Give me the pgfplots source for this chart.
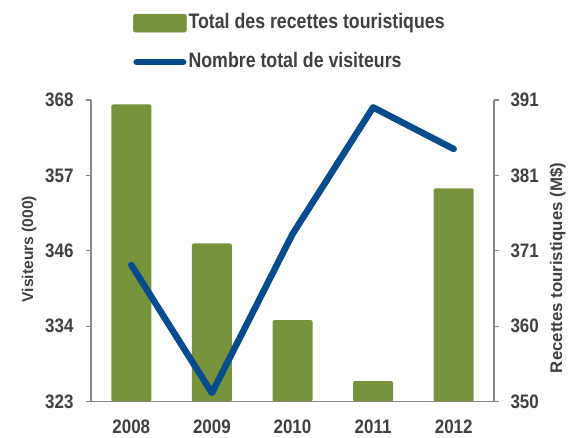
\documentclass[border=0pt]{standalone}
\usepackage{pgfplots}
\pgfplotsset{compat=1.18}
\usepackage{fontspec}
\setmainfont{Liberation Sans}
\newfontfamily\tickfont{Liberation Sans}[FakeStretch=0.87]
\newfontfamily\legfont{Liberation Sans}[FakeStretch=0.845]
\definecolor{barGreen}{RGB}{119,147,60}
\definecolor{lineBlue}{RGB}{6,76,140}
\definecolor{txtGray}{RGB}{64,64,64}
\definecolor{axGray}{RGB}{136,136,136}
\begin{document}
\begin{tikzpicture}
\path[use as bounding box] (-91pt,-35.3pt) rectangle (482pt,401.7pt);
% bars on the right axis
\begin{axis}[
  scale only axis, width=403pt, height=301.7pt,
  xmin=-0.5, xmax=4.5, ymin=350, ymax=391,
  axis x line=none, axis y line*=right,
  axis line style={draw=axGray, line width=1.5pt},
  ytick={350,360.25,370.5,380.75,391},
  yticklabels={350,360,371,381,391},
  tick align=outside, major tick length=5pt,
  tick style={draw=axGray, line width=1.2pt},
  yticklabel style={font=\fontsize{19.5}{20}\selectfont\tickfont\bfseries, text=txtGray, xshift=8pt},
  /pgf/number format/assume math mode=true,
  ylabel={Recettes touristiques (M\$)},
  ylabel style={font=\fontsize{16.8}{18}\selectfont\bfseries, text=txtGray, at={(axis description cs:1.1576,0.443)}, anchor=center},
  ybar, bar width=40pt, xtick=\empty,
  clip=true,
]
\addplot[fill=barGreen, draw=none, rounded corners=2pt] coordinates {(0,390.4) (1,371.5) (2,361.1) (3,352.8) (4,379.0)};
\end{axis}
% line on the left axis
\begin{axis}[
  scale only axis, width=403pt, height=301.7pt,
  xmin=-0.5, xmax=4.5, ymin=323, ymax=368,
  axis x line*=bottom, axis y line*=left,
  axis line style={draw=axGray, line width=1.5pt, -},
  ytick={323,334.25,345.5,356.75,368},
  yticklabels={323,334,346,357,368},
  xtick={0,1,2,3,4},
  xticklabels={2008,2009,2010,2011,2012},
  extra x ticks={-0.5,0.5,1.5,2.5,3.5,4.5},
  extra x tick labels={},
  x tick style={draw=none},
  extra x tick style={major tick length=5pt, tick style={draw=axGray, line width=1.2pt}},
  tick align=outside, major tick length=5pt,
  y tick style={draw=axGray, line width=1.2pt},
  ticklabel style={font=\fontsize{19.5}{20}\selectfont\tickfont\bfseries, text=txtGray},
  yticklabel style={xshift=-9pt},
  xticklabel style={yshift=-10pt},
  /pgf/number format/assume math mode=true,
  ylabel={Visiteurs (000)},
  ylabel style={font=\fontsize{15.6}{17}\selectfont\bfseries, text=txtGray, at={(axis description cs:-0.1538,0.506)}, anchor=center},
  clip=false,
  legend style={draw=none, fill=none, at={(axis description cs:0.1042,1.2884)}, anchor=north west,
    font=\fontsize{21}{22}\selectfont\legfont\bfseries, text=txtGray,
    nodes={inner sep=0pt, text height=15.5pt, text depth=4.5pt},
    row sep=19pt, column sep=2pt, inner sep=0pt},
  legend cell align=left,
]
\addlegendimage{legend image code/.code={\fill[barGreen, rounded corners=2pt] (0pt,-9pt) rectangle (53pt,9pt);}}
\addlegendentry{Total des recettes touristiques}
\addplot[color=lineBlue, line width=6.5pt, line cap=round, line join=round,
  legend image code/.code={\draw[lineBlue, line width=6.5pt, line cap=round] (3.25pt,0pt) -- (49.75pt,0pt);}]
  coordinates {(0,343.4) (1,324.3) (2,348.0) (3,366.9) (4,360.7)};
\addlegendentry{Nombre total de visiteurs}
\end{axis}
\end{tikzpicture}
\end{document}
